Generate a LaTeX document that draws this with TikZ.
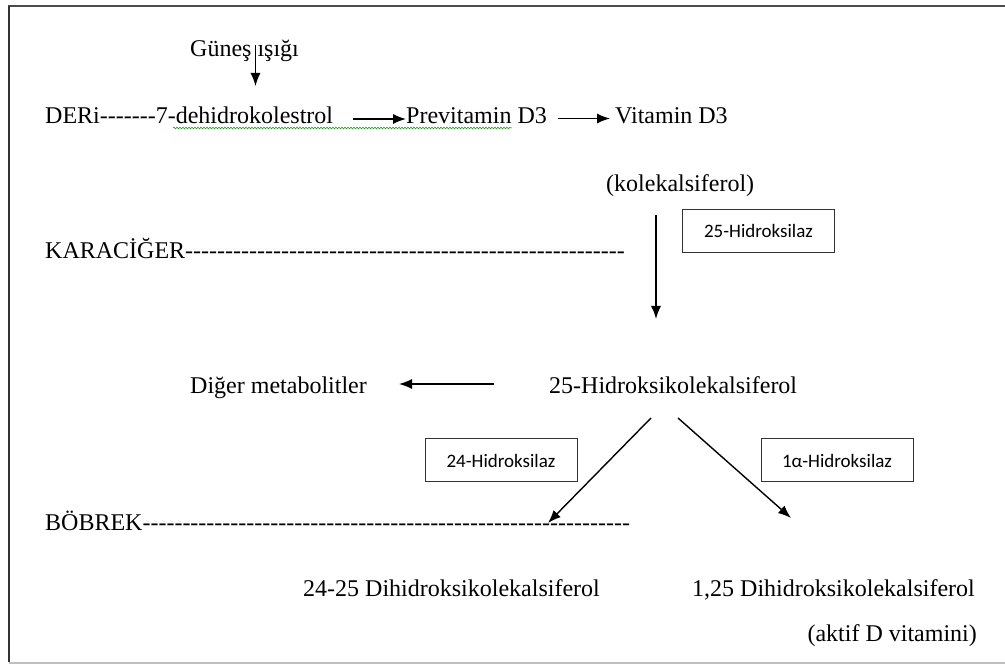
\documentclass[tikz,border=0pt]{standalone}
\usepackage{fontspec}
\setmainfont{Liberation Serif}
\newfontfamily\boxfont{Carlito}
\usetikzlibrary{arrows.meta,decorations.pathmorphing}
\newcommand\hy[1]{\foreach \i in {1,...,#1}{\mbox{-}}}
\tikzset{
  lbl/.style={anchor=base west,inner sep=0pt,font=\fontsize{24}{28}\selectfont},
  enz/.style={draw=black!80,line width=1pt,minimum width=152pt,minimum height=43pt,inner sep=0pt,font=\boxfont\fontsize{19}{22}\selectfont},
  arr/.style={line width=1.4pt,-{Latex[length=13pt,width=10pt]}},
}
\begin{document}
\begin{tikzpicture}[x=1pt,y=-1pt]
\useasboundingbox (0,0) rectangle (1005,668);
% frame
\draw[black!70,line width=1.6pt] (8,6) -- (1005,6);
\draw[black!80,line width=1.6pt] (9,6) -- (9,662);
\draw[black!25,line width=2pt] (9,663) -- (1005,663);
% top row
\node[lbl] (gunes) at (190,57) {Güneş ışığı};
\coordinate (gtop) at (255.5,45);
\node[lbl] (deri) at (45,124) {DERi\hy{7}7-dehidrokolestrol};
\coordinate (gtip) at (255.5,86);
\draw[arr] (gtop) -- (gtip);
\draw[green!60!black,line width=0.5pt,decorate,decoration={snake,amplitude=0.9pt,segment length=3pt}] (173,128) -- (512,128);
\node[lbl] (previt) at (406,124) {Previtamin D3};
\node[lbl] (vitd) at (615,124) {Vitamin D3};
\coordinate (a1s) at (353,119);
\draw[arr] (a1s) -- (previt.west |- a1s);
\coordinate (a2s) at (558,118.5);
\coordinate (a2e) at (610,118.5);
\draw[arr] (a2s) -- (a2e);
\node[lbl] (kolek) at (606,192) {(kolekalsiferol)};
\node[enz] (e25) at (758.5,231) {25-Hidroksilaz};
\node[lbl] (karac) at (45,259) {KARACİĞER\hy{55}};
\coordinate (d1s) at (656,215);
\coordinate (d1e) at (656,319);
\draw[arr] (d1s) -- (d1e);
% middle
\node[lbl] (hk) at (549,394) {25-Hidroksikolekalsiferol};
\node[lbl] (diger) at (190,394) {Diğer metabolitler};
\coordinate (lfs) at (494,384);
\coordinate (lfe) at (399,384);
\draw[arr] (lfs) -- (lfe);
\node[enz] (e24) at (501,460.5) {24-Hidroksilaz};
\node[enz] (e1a) at (837,460.5) {1α-Hidroksilaz};
\coordinate (b1s) at (651,418);
\coordinate (b1e) at (548,523);
\draw[arr] (b1s) -- (b1e);
\coordinate (b2s) at (678,418);
\coordinate (b2e) at (791,518);
\draw[arr] (b2s) -- (b2e);
\node[lbl] (bob) at (45,530) {BÖBREK\hy{61}};
\node[lbl] (d2425) at (303,596) {24-25 Dihidroksikolekalsiferol};
\node[lbl] (d125) at (692,596) {1,25 Dihidroksikolekalsiferol};
\node[lbl,anchor=base east] (aktif) at (977,641) {(aktif D vitamini)};
\end{tikzpicture}
\end{document}
